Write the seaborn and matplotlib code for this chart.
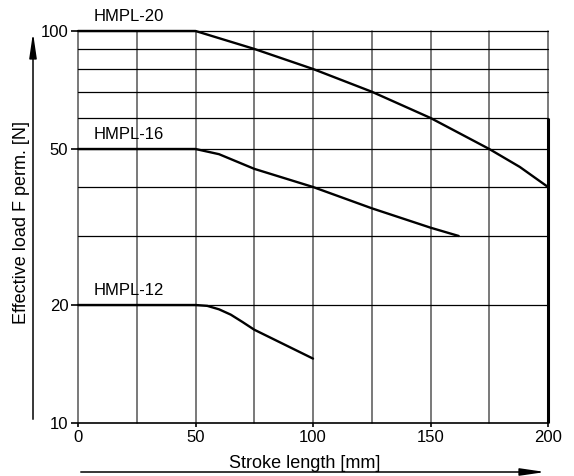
import numpy as np
import pandas as pd
import matplotlib
matplotlib.use("Agg")
import matplotlib.pyplot as plt
import seaborn as sns

# values: stroke length [mm] -> permissible load [N]
x_hmpl20 = [0, 50, 75, 100, 125, 150, 175, 188, 200]
y_hmpl20 = [100, 100, 90, 80, 70, 60, 50, 45, 40]
x_hmpl16 = [0, 50, 60, 75, 100, 125, 150, 162]
y_hmpl16 = [50, 50, 48.5, 44.5, 40, 35.3, 31.5, 30]
x_hmpl12 = [0, 50, 55, 60, 65, 70, 75, 100]
y_hmpl12 = [20, 20, 19.9, 19.5, 18.9, 18.1, 17.3, 14.6]
labels = ["HMPL-20", "HMPL-16", "HMPL-12"]
label_y = [104, 52, 20.9]

x_ticks = [0, 50, 100, 150, 200]
x_grid = [25, 75, 125, 175]
y_ticks = [10, 20, 50, 100]
y_grid = [30, 40, 60, 70, 80, 90]

sns.set_style("white")
plt.rcParams['font.family'] = ['Liberation Sans', 'DejaVu Sans']
plt.rcParams['text.color'] = 'black'
plt.rcParams['xtick.color'] = 'black'
plt.rcParams['ytick.color'] = 'black'

fig = plt.figure(figsize=(5.74, 4.76), dpi=100)
ax = fig.add_axes([0.1359, 0.1113, 0.9547 - 0.1359, 0.9349 - 0.1113])

frames = [
    pd.DataFrame({"x": x_hmpl20, "y": y_hmpl20, "s": labels[0]}),
    pd.DataFrame({"x": x_hmpl16, "y": y_hmpl16, "s": labels[1]}),
    pd.DataFrame({"x": x_hmpl12, "y": y_hmpl12, "s": labels[2]}),
]
for df in frames:
    sns.lineplot(data=df, x="x", y="y", color="black", lw=1.7, sort=False,
                 estimator=None, ax=ax, zorder=3, clip_on=False)

ax.set_yscale("log")
ax.set_xlim(0, 200)
ax.set_ylim(10, 100)

ax.set_xticks(x_ticks)
ax.set_xticks(x_grid, minor=True)
ax.set_yticks(y_ticks)
ax.set_yticklabels([str(v) for v in y_ticks])
ax.set_yticks(y_grid, minor=True)
ax.yaxis.set_minor_formatter(matplotlib.ticker.NullFormatter())

ax.grid(False)
for v in x_ticks + x_grid:
    ax.axvline(v, color="#555555", lw=1.1, zorder=1, clip_on=False)
for v in y_ticks[1:] + y_grid:
    ax.axhline(v, color="black", lw=0.9, zorder=1, clip_on=False)
ax.vlines(200, 10, 60, color="black", lw=2.2, zorder=2, clip_on=False)

for sp in ["top", "right", "left"]:
    ax.spines[sp].set_visible(False)
ax.spines["bottom"].set_color("black")
ax.spines["bottom"].set_linewidth(1.2)

ax.tick_params(axis="x", which="major", direction="out", length=3, width=1.2,
               labelsize=12, pad=2, bottom=True)
ax.tick_params(axis="y", which="major", direction="out", length=5, width=1.2,
               labelsize=12, pad=2, left=True)
ax.tick_params(which="minor", length=0)
ax.set_xlabel("")
ax.set_ylabel("")

for name, yy in zip(labels, label_y):
    ax.text(6.5, yy, name, fontsize=12, ha="left", va="bottom")

fig.text(0.531, 0.0168, "Stroke length [mm]", fontsize=13, ha="center", va="baseline")
fig.text(0.0366, 0.5336, "Effective load F perm. [N]", fontsize=13,
         rotation=90, ha="center", va="center")

ax.annotate("", xy=(0.0575, 0.937), xytext=(0.0575, 0.1134), xycoords="figure fraction",
            arrowprops=dict(arrowstyle="-|>,head_length=1.5,head_width=0.22",
                            mutation_scale=10, color="black", lw=1.1))
ax.annotate("", xy=(0.9547, 0.0084), xytext=(0.1359, 0.0084), xycoords="figure fraction",
            arrowprops=dict(arrowstyle="-|>,head_length=1.5,head_width=0.22",
                            mutation_scale=10, color="black", lw=1.1))

fig.savefig("out.png", dpi=100)
